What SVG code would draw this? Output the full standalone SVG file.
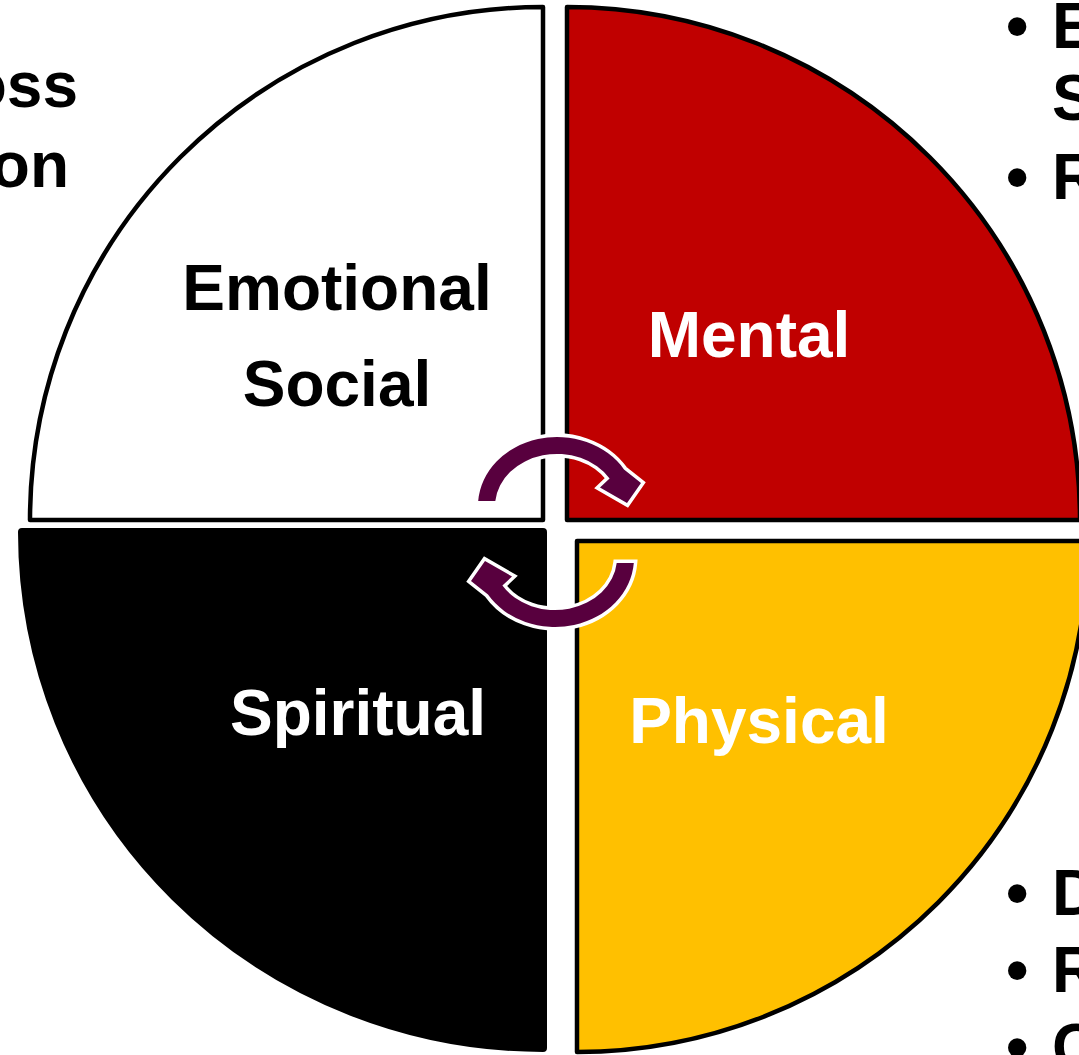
<svg xmlns="http://www.w3.org/2000/svg" width="1079" height="1055" viewBox="0 0 1079 1055">
<style>
.lbl{font-family:"Liberation Sans",Arial,sans-serif;font-weight:bold;font-size:64px;text-anchor:middle}
.side{font-family:"Liberation Sans",Arial,sans-serif;font-weight:bold;font-size:64px}
.q{stroke:#000;stroke-width:4.5;stroke-linejoin:round}
.arrow{fill:#58003E;stroke:#fff;stroke-width:7;paint-order:stroke;stroke-linejoin:miter}
</style>
<defs>
<path id="circArrow" d="M478.2,501 A79,69 0 0 1 624,469.4 L641,483 L627,503 L600,487.5 L609.6,478.4 A62,52 0 0 0 495.3,501 Z"/>
</defs>
<rect width="1079" height="1055" fill="#fff"/>
<g id="side-text">
<text class="side" x="78" y="107" text-anchor="end">oss</text>
<text class="side" x="69" y="187" text-anchor="end">on</text>
<text class="side" x="1006" y="48">•</text>
<text class="side" x="1052" y="48">E</text>
<text class="side" x="1052" y="120">S</text>
<text class="side" x="1006" y="199">•</text>
<text class="side" x="1052" y="199">R</text>
<text class="side" x="1006" y="915">•</text>
<text class="side" x="1052" y="915">D</text>
<text class="side" x="1006" y="992">•</text>
<text class="side" x="1052" y="992">R</text>
<text class="side" x="1006" y="1069">•</text>
<text class="side" x="1052" y="1069">C</text>
</g>
<g id="emotional-social">
<path class="q" d="M543,520 H30 A513,513 0 0 1 543,7 Z" fill="#fff"/>
<text class="lbl" x="337" y="310" fill="#000">Emotional</text>
<text class="lbl" x="337" y="406" fill="#000">Social</text>
</g>
<g id="mental">
<path class="q" d="M567,520 V7 A513,513 0 0 1 1080,520 Z" fill="#C00000"/>
<text class="lbl" x="749" y="357" fill="#fff">Mental</text>
</g>
<g id="spiritual">
<path d="M543,532 V1048 A521,516 0 0 1 22,532 Z" fill="#000" stroke="#000" stroke-width="8" stroke-linejoin="round"/>
<text class="lbl" x="358" y="735" fill="#fff">Spiritual</text>
</g>
<g id="physical">
<path class="q" d="M577,541 H1088 A511,511 0 0 1 577,1052 Z" fill="#FFC000"/>
<text class="lbl" x="759" y="743" fill="#fff">Physical</text>
</g>
<g id="connectors">
<use href="#circArrow" class="arrow"/>
<use href="#circArrow" class="arrow" transform="rotate(180 556 532)"/>
</g>
</svg>
